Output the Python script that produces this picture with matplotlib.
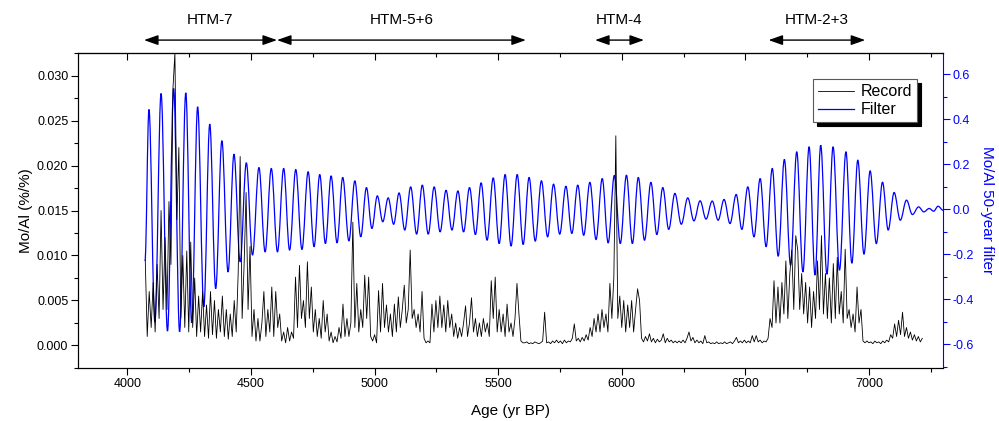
import numpy as np
import matplotlib
matplotlib.use("Agg")
import matplotlib.pyplot as plt
from matplotlib.path import Path
from matplotlib.patches import PathPatch
from matplotlib.lines import Line2D
from matplotlib.ticker import MultipleLocator, FormatStrFormatter, NullFormatter

plt.rcParams["font.family"] = ["Liberation Sans", "DejaVu Sans"]
plt.rcParams["axes.unicode_minus"] = False

# Mo/Al record, read by eye every 8 years (units of 0.001 %/%)
record_age = np.arange(4072, 7217, 8)
record_permil = [
    9.5, 1.0, 6.0, 2.0, 7.0, 1.5, 9.0, 3.0, 15.0, 4.0,
    12.0, 4.0, 16.0, 9.0, 28.5, 32.5, 14.0, 22.0, 3.0, 10.0,
    2.0, 10.5, 1.5, 11.5, 2.0, 7.5, 1.0, 5.5, 1.5, 6.0,
    1.0, 4.5, 0.8, 6.0, 1.2, 5.0, 0.8, 4.0, 1.5, 5.5,
    1.0, 4.0, 0.7, 3.5, 1.0, 5.0, 1.5, 8.0, 21.0, 3.0,
    9.0, 17.0, 4.0, 11.0, 1.0, 4.0, 0.5, 3.0, 0.5, 2.5,
    6.0, 1.0, 4.0, 1.5, 6.5, 1.0, 6.0, 2.0, 3.5, 0.5,
    1.5, 0.3, 2.0, 0.5, 1.5, 0.8, 7.6, 2.0, 8.9, 3.0,
    5.0, 2.0, 9.3, 3.0, 6.5, 1.5, 4.0, 1.0, 3.0, 0.8,
    5.0, 1.5, 3.5, 0.5, 1.5, 0.3, 1.0, 0.4, 2.0, 0.8,
    4.6, 1.0, 3.0, 1.0, 2.5, 13.7, 2.0, 6.9, 1.5, 4.0,
    2.0, 7.8, 3.0, 7.6, 1.0, 0.5, 1.2, 0.3, 6.1, 1.5,
    6.9, 2.0, 4.5, 1.5, 3.5, 1.0, 4.6, 1.5, 5.4, 2.0,
    4.0, 6.7, 2.5, 4.0, 10.6, 3.0, 4.0, 2.0, 3.5, 1.5,
    6.0, 0.8, 0.3, 0.5, 0.3, 4.6, 1.5, 5.0, 2.0, 5.5,
    2.0, 4.5, 1.5, 5.0, 2.0, 3.5, 1.0, 2.5, 0.8, 2.0,
    1.0, 2.5, 4.4, 1.0, 2.5, 5.3, 1.5, 3.0, 1.0, 2.5,
    1.0, 3.0, 1.5, 2.5, 1.0, 7.2, 3.0, 7.6, 1.5, 4.0,
    1.5, 3.5, 1.0, 4.6, 1.5, 2.5, 1.0, 3.0, 6.9, 3.5,
    0.5, 0.3, 0.3, 0.4, 0.2, 0.3, 0.2, 0.4, 0.3, 0.2,
    0.3, 0.5, 3.7, 0.3, 0.4, 0.2, 0.5, 0.3, 0.6, 0.3,
    0.5, 0.2, 0.6, 0.3, 0.5, 0.4, 0.8, 2.4, 0.5, 0.8,
    0.4, 0.9, 0.5, 1.2, 0.6, 2.0, 1.0, 3.0, 1.5, 3.5,
    1.5, 4.0, 2.0, 3.5, 1.5, 6.9, 3.0, 7.6, 23.3, 3.0,
    5.5, 2.0, 5.0, 1.5, 4.5, 2.0, 5.0, 1.5, 4.0, 6.3,
    5.0, 0.8, 0.4, 1.0, 0.5, 1.3, 0.4, 0.8, 0.3, 0.7,
    0.4, 0.6, 1.3, 0.3, 0.8, 0.4, 0.6, 0.3, 0.5, 0.3,
    0.5, 0.3, 0.6, 0.3, 0.8, 1.5, 0.5, 0.9, 0.3, 0.6,
    0.3, 0.5, 0.2, 1.1, 0.3, 0.4, 0.2, 0.3, 0.2, 0.4,
    0.2, 0.3, 0.2, 0.4, 0.2, 0.3, 0.4, 0.2, 0.5, 0.9,
    0.3, 0.5, 0.3, 0.6, 0.3, 0.5, 0.3, 1.1, 0.4, 1.1,
    0.4, 0.6, 0.3, 0.5, 0.4, 0.8, 3.0, 2.0, 7.2, 2.5,
    6.5, 2.5, 7.0, 3.5, 9.4, 3.0, 8.0, 10.6, 4.0, 12.2,
    10.6, 4.0, 8.0, 3.5, 7.0, 2.5, 6.5, 2.0, 6.0, 3.0,
    9.4, 4.0, 12.2, 3.5, 8.0, 3.0, 7.5, 2.5, 9.1, 3.0,
    9.8, 3.5, 6.0, 2.5, 10.7, 3.0, 4.0, 2.0, 3.5, 1.5,
    6.5, 2.5, 4.0, 0.5, 0.3, 0.5, 0.3, 0.4, 0.2, 0.5,
    0.3, 0.4, 0.2, 0.5, 0.3, 0.6, 0.4, 1.2, 0.8, 2.4,
    1.0, 2.8, 1.2, 3.7, 1.0, 2.0, 0.8, 1.5, 0.6, 1.2,
    0.5, 1.0, 0.4, 0.8,
]
mo_al = np.array(record_permil) * 1e-3

# 50-year filter: start, then alternating peaks / troughs, then end
filter_age = [
    4071, 4087, 4111, 4136, 4162, 4187, 4211, 4236, 4260, 4284,
    4309, 4333, 4357, 4382, 4407, 4431, 4456, 4481, 4506, 4532,
    4557, 4582, 4607, 4632, 4656, 4681, 4706, 4731, 4755, 4778,
    4801, 4824, 4848, 4871, 4896, 4920, 4944, 4967, 4989, 5011,
    5033, 5055, 5077, 5099, 5122, 5146, 5170, 5193, 5217, 5241,
    5265, 5289, 5313, 5337, 5360, 5384, 5408, 5431, 5455, 5480,
    5504, 5528, 5552, 5577, 5601, 5625, 5650, 5675, 5700, 5724,
    5749, 5774, 5798, 5822, 5846, 5871, 5896, 5921, 5945, 5970,
    5994, 6019, 6043, 6067, 6092, 6118, 6142, 6166, 6190, 6215,
    6241, 6267, 6292, 6317, 6341, 6366, 6390, 6414, 6438, 6463,
    6486, 6510, 6535, 6560, 6584, 6609, 6633, 6658, 6683, 6708,
    6733, 6758, 6782, 6805, 6830, 6855, 6881, 6907, 6931, 6955,
    6980, 7005, 7030, 7055, 7078, 7102, 7127, 7152, 7176, 7201,
    7222, 7244, 7262, 7280, 7300,
]
filter_value = [
    -0.230, 0.443, -0.501, 0.514, -0.542, 0.536, -0.545, 0.517, -0.505, 0.455,
    -0.434, 0.378, -0.353, 0.304, -0.279, 0.244, -0.234, 0.206, -0.204, 0.185,
    -0.190, 0.181, -0.190, 0.181, -0.182, 0.176, -0.179, 0.166, -0.167, 0.154,
    -0.153, 0.148, -0.150, 0.141, -0.141, 0.126, -0.123, 0.096, -0.086, 0.059,
    -0.056, 0.050, -0.067, 0.072, -0.093, 0.099, -0.111, 0.107, -0.111, 0.099,
    -0.101, 0.084, -0.093, 0.081, -0.101, 0.096, -0.113, 0.117, -0.138, 0.139,
    -0.153, 0.154, -0.164, 0.154, -0.157, 0.141, -0.142, 0.126, -0.123, 0.111,
    -0.111, 0.102, -0.108, 0.107, -0.116, 0.119, -0.135, 0.136, -0.150, 0.150,
    -0.153, 0.151, -0.153, 0.141, -0.138, 0.119, -0.113, 0.096, -0.090, 0.070,
    -0.067, 0.050, -0.052, 0.037, -0.044, 0.036, -0.049, 0.043, -0.064, 0.065,
    -0.090, 0.099, -0.123, 0.136, -0.167, 0.181, -0.209, 0.221, -0.249, 0.255,
    -0.279, 0.277, -0.293, 0.284, -0.289, 0.277, -0.271, 0.255, -0.240, 0.218,
    -0.200, 0.170, -0.153, 0.120, -0.093, 0.074, -0.049, 0.040, -0.024, 0.010,
    -0.012, 0.003, -0.009, 0.013, -0.005,
]

htm_names = ["HTM-7", "HTM-5+6", "HTM-4", "HTM-2+3"]
htm_start = [4067, 4605, 5892, 6594]
htm_end = [4605, 5612, 6090, 6985]

if len(filter_age) != len(filter_value) or len(record_age) != len(mo_al):
    raise ValueError("data length mismatch")

fig = plt.figure(figsize=(9.99, 4.21), dpi=100)
ax = fig.add_axes([0.0781, 0.1259, 0.8659, 0.7482])
ax2 = ax.twinx()
ax.set_zorder(ax2.get_zorder() + 1)
ax.patch.set_visible(False)

(rec_line,) = ax.plot(record_age, mo_al, color="black", lw=0.6)

# filter drawn as smooth half-cycles between the extrema
k = 0.3642
verts = [(filter_age[0], filter_value[0])]
codes = [Path.MOVETO]
for xa, ya, xb, yb in zip(filter_age[:-1], filter_value[:-1], filter_age[1:], filter_value[1:]):
    dx = xb - xa
    verts += [(xa + k * dx, ya), (xb - k * dx, yb), (xb, yb)]
    codes += [Path.CURVE4] * 3
ax2.add_patch(PathPatch(Path(verts, codes), fill=False, edgecolor="#0000ff", lw=0.9))

ax.set_xlim(3800, 7300)
ax.set_ylim(-0.0025, 0.0325)
ax2.set_ylim(-0.706, 0.694)

ax.xaxis.set_major_locator(MultipleLocator(500))
ax.xaxis.set_minor_locator(MultipleLocator(250))
ax.yaxis.set_major_locator(MultipleLocator(0.005))
ax.yaxis.set_minor_locator(MultipleLocator(0.0025))
ax.yaxis.set_major_formatter(FormatStrFormatter("%.3f"))
ax2.yaxis.set_major_locator(MultipleLocator(0.2))
ax2.yaxis.set_minor_locator(MultipleLocator(0.1))
ax2.yaxis.set_major_formatter(FormatStrFormatter("%.1f"))

ax.tick_params(which="both", direction="out", labelsize=9, pad=2, width=0.8)
ax.tick_params(which="major", length=5)
ax.tick_params(which="minor", length=3)
ax2.tick_params(which="both", direction="out", colors="#0000ff", labelsize=9, pad=2, width=0.8)
ax2.tick_params(which="major", length=5)
ax2.tick_params(which="minor", length=3)
ax.spines["right"].set_visible(False)
ax2.spines["right"].set_color("#0000ff")

top = ax.secondary_xaxis("top")
top.xaxis.set_major_locator(MultipleLocator(500))
top.xaxis.set_minor_locator(MultipleLocator(250))
top.xaxis.set_major_formatter(NullFormatter())
top.tick_params(which="both", direction="in", width=0.8)
top.tick_params(which="major", length=5)
top.tick_params(which="minor", length=3)

ax.set_xlabel("Age (yr BP)", fontsize=11, labelpad=10)
ax.set_ylabel("Mo/Al (%/%)", fontsize=11, labelpad=3)
ax2.set_ylabel("Mo/Al 50-year filter", fontsize=11, color="#0000ff", rotation=270, labelpad=14)

filt_handle = Line2D([], [], color="#0000ff", lw=0.9)
leg = ax.legend(
    [rec_line, filt_handle], ["Record", "Filter"],
    loc="upper right", bbox_to_anchor=(0.970, 0.9165), borderaxespad=0,
    fancybox=False, framealpha=1, edgecolor="0.35", fontsize=11.5,
    handlelength=2.3, handletextpad=0.4, borderpad=0.3, labelspacing=0.2,
    shadow={"ox": 3, "oy": -3, "facecolor": "black", "edgecolor": "black", "alpha": 1},
)
leg.get_frame().set_linewidth(0.8)

xt = ax.get_xaxis_transform()
for name, a, b in zip(htm_names, htm_start, htm_end):
    ax.annotate(
        "", xy=(b, 1.041), xytext=(a, 1.041), xycoords=xt, textcoords=xt,
        annotation_clip=False,
        arrowprops=dict(arrowstyle="<|-|>,head_length=0.85,head_width=0.3",
                        color="black", lw=1, shrinkA=0, shrinkB=0, mutation_scale=10),
    )
    ax.text((a + b) / 2, 1.105, name, transform=xt, ha="center", va="center", fontsize=11)

fig.savefig("out.png", dpi=100)
